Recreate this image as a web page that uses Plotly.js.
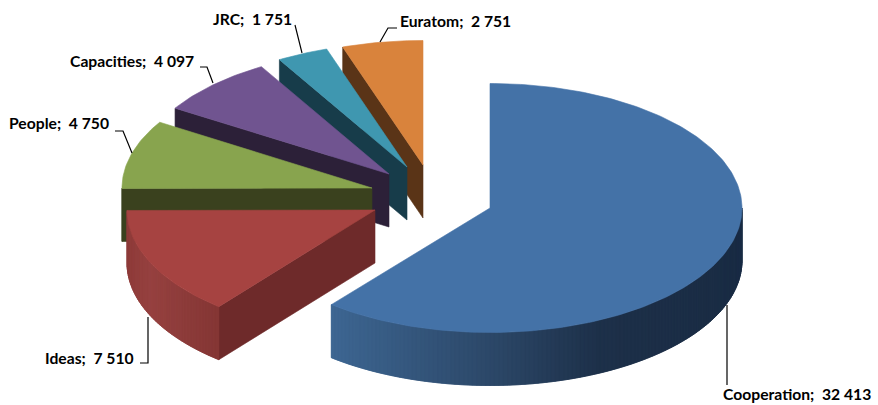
<!DOCTYPE html>
<html>
<head>
<meta charset="utf-8">
<script src="https://cdn.plot.ly/plotly-3.0.1.min.js"></script>
<style>html,body{margin:0;padding:0;background:#fff}#chart{width:878px;height:405px}</style>
</head>
<body>
<div id="chart"></div>
<script>
const categories = ["Cooperation", "Ideas", "People", "Capacities", "JRC", "Euratom"];
const values = [32413, 7510, 4750, 4097, 1751, 2751];
const valueLabels = ["32 413", "7 510", "4 750", "4 097", "1 751", "2 751"];
const topColors = ["#4472a7", "#a64341", "#88a44e", "#705490", "#3f97b0", "#d9833c"];
const faceColors = ["#1b2d45", "#6e2a2a", "#3a411e", "#2c2038", "#173c4a", "#5a3417"];
const sideStops = [
  [[332, "#3d6692"], [500, "#2b4666"], [600, "#1d3049"], [742, "#1a2c44"]],
  [[127, "#8f3c3a"], [150, "#964140"], [220, "#843634"]],
  [[122, "#3a411e"], [130, "#3a411e"]],
  [[170, "#2c2038"], [180, "#2c2038"]],
  [[270, "#173c4a"], [290, "#173c4a"]],
  [[330, "#5a3417"], [350, "#5a3417"]]
];
/* exploded pie centres on the page, in axis units */
const centreX = [490, 375, 372, 389, 407, 423];
const centreY = [208, 210, 188, 174, 167, 165];
const radiusX = [252, 248, 250, 252, 252, 252];
const radiusY = 124.5;
const depth = 53;
/* label placement */
const labelX = [721, 43, 7, 68, 211, 398];
const labelY = [394, 358, 123, 61, 19, 21];
const leaderX = [[727, 727], [140, 148, 148], [115, 123, 132], [200, 207, 213], [295, 302], [397, 388, 380]];
const leaderY = [[305, 385], [363, 363, 317], [131, 131, 153], [67, 67, 83], [25, 53], [28, 28, 42]];

const total = values.reduce((a, b) => a + b, 0);
const rad = d => d * Math.PI / 180;
function hex(c) { return [1, 3, 5].map(i => parseInt(c.substr(i, 2), 16)); }
function colorAt(stops, x) {
  if (x <= stops[0][0]) return stops[0][1];
  for (let i = 1; i < stops.length; i++) {
    if (x <= stops[i][0]) {
      const t = (x - stops[i - 1][0]) / (stops[i][0] - stops[i - 1][0]);
      const a = hex(stops[i - 1][1]), b = hex(stops[i][1]);
      return "rgb(" + a.map((v, k) => Math.round(v + (b[k] - v) * t)).join(",") + ")";
    }
  }
  return stops[stops.length - 1][1];
}
function poly(xs, ys, color, name, hover) {
  return {
    type: "scatter", mode: "lines", x: xs, y: ys, fill: "toself", fillcolor: color,
    line: {color: color, width: 0.6}, name: name, showlegend: false,
    hoverinfo: hover ? "text" : "skip", text: hover || undefined, hoveron: "fills"
  };
}

const starts = [];
let acc = 0;
values.forEach(v => { starts.push(acc / total * 360); acc += v; });

const traces = [];
for (let i = categories.length - 1; i >= 0; i--) {
  const a0 = starts[i], a1 = a0 + values[i] / total * 360;
  const cx = centreX[i], cy = centreY[i], rx = radiusX[i];
  const px = a => cx + rx * Math.sin(rad(a));
  const py = a => cy - radiusY * Math.cos(rad(a));
  // cut face on the starting edge
  if (a0 > 180) {
    traces.push(poly([cx, px(a0), px(a0), cx, cx], [cy, py(a0), py(a0) + depth, cy + depth, cy], faceColors[i], categories[i]));
  }
  // outer rim, only the part that faces the viewer; each strip overlaps its neighbour
  const r0 = Math.max(a0, 90), r1 = Math.min(a1, 270);
  const rim = [];
  for (let a = r0; a < r1; a += 1) rim.push(a);
  rim.reverse().forEach(a => {
    const b = Math.min(a + 1, r1);
    const from = Math.max(a - 1, r0);
    const mx = (px(a) + px(b)) / 2;
    traces.push(poly(
      [px(from), px(a), px(b), px(b), px(a), px(from), px(from)],
      [py(from), py(a), py(b), py(b) + depth, py(a) + depth, py(from) + depth, py(from)],
      colorAt(sideStops[i], mx), categories[i]));
  });
  // top surface
  const xs = [cx], ys = [cy];
  for (let a = a0; a < a1; a += 1) { xs.push(px(a)); ys.push(py(a)); }
  xs.push(px(a1), cx); ys.push(py(a1), cy);
  traces.push(poly(xs, ys, topColors[i], categories[i], categories[i] + "; " + valueLabels[i]));
}
categories.forEach((c, i) => {
  traces.push({type: "scatter", mode: "lines", x: leaderX[i], y: leaderY[i],
    line: {color: "#000", width: 1.2}, showlegend: false, hoverinfo: "skip"});
});

const annotations = categories.map((c, i) => ({
  x: labelX[i], y: labelY[i], xref: "x", yref: "y", xanchor: "left", yanchor: "middle",
  text: c + ";\u00a0 " + valueLabels[i], showarrow: false,
  font: {family: "Lato, Carlito, sans-serif", size: 15.7, color: "#000", weight: 700}
}));

Plotly.newPlot("chart", traces, {
  width: 878, height: 405, margin: {l: 0, r: 0, t: 0, b: 0},
  paper_bgcolor: "#fff", plot_bgcolor: "#fff", showlegend: false,
  xaxis: {range: [0, 878], visible: false, fixedrange: true},
  yaxis: {range: [405, 0], visible: false, fixedrange: true},
  annotations: annotations
}, {displayModeBar: false, staticPlot: false});
</script>
</body>
</html>
